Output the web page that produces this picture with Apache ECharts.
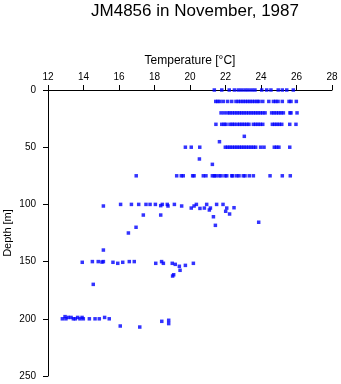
<!DOCTYPE html>
<html>
<head>
<meta charset="utf-8">
<script src="https://cdn.jsdelivr.net/npm/echarts@6/dist/echarts.min.js"></script>
<style>
  html, body { margin: 0; padding: 0; background: #fff; }
  #chart { width: 341px; height: 384px; }
</style>
</head>
<body>
<div id="chart"></div>
<script>
// Temperature readings (°C) grouped by standard sampling depth (m)
const temps0 = [21.37, 21.79, 22.21, 22.50, 22.72, 22.91, 23.10, 23.28, 23.48, 23.66, 24.04, 24.32, 24.56, 24.97, 25.20, 25.45, 25.82];
const temps10 = [21.45, 21.56, 21.69, 21.88, 22.12, 22.35, 22.59, 22.72, 22.86, 22.99, 23.12, 23.25, 23.38, 23.51, 23.65, 23.78, 23.89, 24.10, 24.44, 24.70, 24.83, 24.96, 25.20, 25.58, 25.69, 25.99];
const temps20 = [21.75, 21.93, 22.12, 22.25, 22.38, 22.52, 22.65, 22.78, 22.91, 23.04, 23.17, 23.31, 23.44, 23.57, 23.70, 23.83, 23.96, 24.10, 24.23, 24.60, 24.73, 24.86, 25.00, 25.13, 25.26, 25.63, 25.69, 26.03];
const temps30 = [21.46, 21.79, 21.92, 22.03, 22.25, 22.38, 22.50, 22.66, 22.80, 22.93, 23.06, 23.20, 23.32, 23.57, 23.70, 23.83, 23.96, 24.10, 24.64, 24.77, 24.90, 25.03, 25.17, 25.62, 25.97];
const temps50 = [19.74, 20.07, 20.55, 21.99, 22.12, 22.25, 22.38, 22.52, 22.65, 22.78, 22.91, 23.04, 23.17, 23.31, 23.44, 23.57, 23.70, 23.98, 24.17, 24.75, 24.88, 25.01, 25.62];
const temps75 = [16.97, 19.25, 19.51, 19.62, 20.15, 20.23, 20.75, 20.90, 21.26, 21.37, 21.45, 21.63, 21.75, 21.97, 22.07, 22.35, 22.41, 22.63, 22.76, 23.00, 23.10, 23.34, 23.57, 24.51, 25.20, 25.65];
const temps100 = [16.09, 16.70, 17.11, 17.52, 17.75, 18.05, 18.44, 18.72, 19.12, 20.36, 20.94, 21.50, 21.86];
const temps150 = [14.50, 14.83, 15.12, 16.58, 16.86, 18.40];
const temps200 = [12.81, 13.01, 13.43, 13.54, 13.80, 13.99, 14.33, 14.65, 14.89, 15.45];

// Readings taken off the standard depths: [temperature °C, depth m]
const offLevel = [
  [23.06, 40.5], [21.66, 45.2], [20.53, 60.3], [21.26, 65.0],
  [15.12, 101.4], [18.35, 101.1], [18.76, 101.4], [19.53, 101.4], [20.07, 103.2],
  [20.23, 101.4], [20.56, 103.5], [20.81, 103.2], [21.09, 104.9], [21.15, 103.2],
  [22.01, 106.0], [22.07, 103.2], [22.23, 108.4], [22.48, 102.9],
  [17.37, 109.3], [18.35, 109.3], [21.32, 110.8], [21.43, 118.3], [23.87, 115.6],
  [16.96, 120.0], [16.53, 125.0], [15.12, 139.9],
  [13.93, 150.6], [15.04, 150.4], [15.66, 150.6], [15.93, 151.5], [16.21, 150.6],
  [18.07, 151.5], [18.50, 151.5], [19.00, 151.5], [19.17, 152.4], [19.40, 154.1],
  [19.44, 157.6], [19.74, 153.3], [20.19, 151.5], [19.02, 162.6], [19.08, 161.5],
  [14.55, 169.9],
  [12.96, 198.1], [13.14, 198.8], [13.30, 198.8], [13.67, 198.8], [13.92, 198.8],
  [15.19, 198.8], [16.07, 206.3], [17.17, 207.2], [18.41, 202.2], [18.80, 201.3], [18.80, 204.2]
];

const levels = [
  [0, temps0], [10, temps10], [20, temps20], [30, temps30], [50, temps50],
  [75, temps75], [100, temps100], [150, temps150], [200, temps200]
];

const points = [];
levels.forEach(([depth, temps]) => temps.forEach(t => points.push([t, depth])));
offLevel.forEach(p => points.push(p));

const FONT = 'Liberation Sans, Arial, sans-serif';
const chart = echarts.init(document.getElementById('chart'), null, { renderer: 'canvas' });

chart.setOption({
  animation: false,
  backgroundColor: '#ffffff',
  title: {
    text: 'JM4856 in November, 1987',
    left: 190,
    top: -2,
    textAlign: 'center',
    textStyle: { fontFamily: FONT, fontSize: 17, fontWeight: 'normal', color: '#000' }
  },
  grid: { left: 48, top: 90, width: 284, height: 286, outerBoundsMode: 'none', containLabel: false },
  xAxis: {
    type: 'value',
    position: 'top',
    min: 12, max: 28, interval: 2,
    name: 'Temperature [°C]',
    nameLocation: 'middle',
    nameGap: 23,
    nameMoveOverlap: false,
    nameTextStyle: { fontFamily: FONT, fontSize: 12, color: '#000' },
    axisLine: { onZero: false, lineStyle: { color: '#000', width: 1 } },
    axisTick: { show: true, inside: false, length: 5, lineStyle: { color: '#000' } },
    axisLabel: { fontFamily: FONT, fontSize: 10, color: '#000', margin: 8 },
    splitLine: { show: false }
  },
  yAxis: {
    type: 'value',
    inverse: true,
    min: 0, max: 250, interval: 50,
    name: 'Depth [m]',
    nameLocation: 'middle',
    nameGap: 35,
    nameRotate: 90,
    nameMoveOverlap: false,
    nameTextStyle: { fontFamily: FONT, fontSize: 11, color: '#000' },
    axisLine: { show: true, onZero: false, lineStyle: { color: '#000', width: 1 } },
    axisTick: { show: true, inside: false, length: 5, lineStyle: { color: '#000' } },
    axisLabel: { fontFamily: FONT, fontSize: 10, color: '#000', margin: 12 },
    splitLine: { show: false }
  },
  series: [{
    type: 'scatter',
    data: points,
    symbol: 'rect',
    symbolSize: 3.5,
    itemStyle: { color: '#0000ff' },
    silent: true
  }]
});
</script>
</body>
</html>
